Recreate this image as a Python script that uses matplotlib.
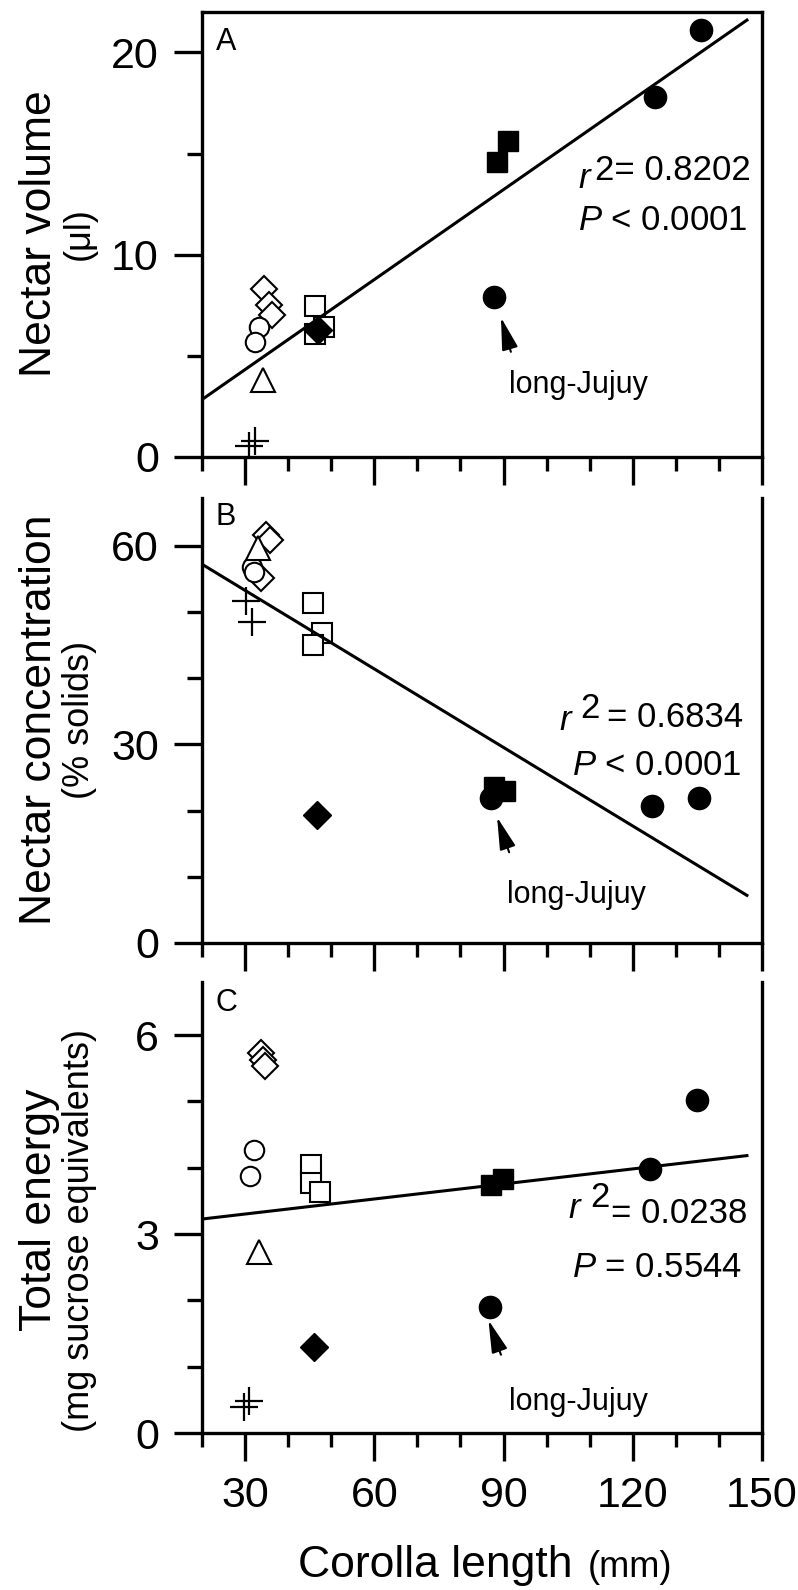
import matplotlib
matplotlib.use('Agg')
import matplotlib.pyplot as plt
from matplotlib.ticker import FixedLocator, MultipleLocator

plt.rcParams['font.family'] = ['Liberation Sans', 'DejaVu Sans']
plt.rcParams['mathtext.fontset'] = 'custom'
plt.rcParams['mathtext.rm'] = 'Liberation Sans'
plt.rcParams['mathtext.it'] = 'Liberation Sans:italic'

# symbol of each population, same order in every panel
groups = ['oD', 'oD', 'oD', 'oo', 'oo', 'o^', '+', '+', 'os', 'os', 'os',
          'D', 's', 's', 'o', 'o', 'o']

# panel A: nectar volume (ul)
corolla_A = [34.3, 35.6, 36.3, 33.3, 32.3, 34.2, 32.4, 30.9, 46.2, 46.2, 48.3,
             47.0, 91.0, 88.5, 125.2, 135.8, 87.7]
volume = [8.3, 7.5, 7.0, 6.43, 5.7, 3.8, 0.8, 0.54, 7.46, 6.1, 6.43,
          6.27, 15.6, 14.6, 17.8, 21.1, 7.9]

# panel B: nectar concentration (% solids)
corolla_B = [34.9, 35.8, 33.6, 31.5, 32.0, 33.1, 30.1, 31.7, 45.7, 47.9, 45.7,
             46.6, 87.7, 90.3, 124.5, 135.4, 87.0]
concentration = [61.6, 60.9, 55.1, 56.8, 56.0, 59.6, 51.6, 48.5, 51.3, 46.8, 45.0,
                 19.3, 23.6, 22.9, 20.7, 21.9, 21.9]

# panel C: total energy (mg sucrose equivalents)
corolla_C = [33.6, 34.2, 34.7, 32.0, 31.2, 33.2, 31.0, 29.7, 45.3, 45.3, 47.5,
             46.1, 87.2, 89.9, 124.0, 135.0, 86.8]
energy = [5.73, 5.62, 5.53, 4.27, 3.87, 2.73, 0.49, 0.39, 4.04, 3.77, 3.64,
          1.29, 3.74, 3.83, 3.98, 5.02, 1.90]

# regression lines (value at x=20 and slope)
fit_start = [2.84, 57.2, 3.226]
fit_slope = [0.1483, -0.3953, 0.00756]
fit_x = [20, 146.5]

r2_text = ['2= 0.8202', '= 0.6834', '= 0.0238']
p_text = [r'$P$ < 0.0001', r'$P$ < 0.0001', r'$P$ = 0.5544']
letters = ['A', 'B', 'C']

styles = {
    'oD': dict(marker='D', ms=13, mfc='white', mec='k', mew=1.5),
    'oo': dict(marker='o', ms=14, mfc='white', mec='k', mew=1.5),
    'o^': dict(marker='^', ms=17, mfc='white', mec='k', mew=1.5),
    '+': dict(marker='+', ms=20, mec='k', mew=1.6),
    'os': dict(marker='s', ms=14, mfc='white', mec='k', mew=1.5),
    'D': dict(marker='D', ms=14, mfc='k', mec='k', mew=1),
    's': dict(marker='s', ms=15, mfc='k', mec='k', mew=1),
    'o': dict(marker='o', ms=16, mfc='k', mec='k', mew=1),
}

fig = plt.figure(figsize=(7.98, 15.9), dpi=100)
left, width = 202 / 798, 560 / 798
axA = fig.add_axes([left, 0.71258, width, 0.27987])
axB = fig.add_axes([left, 0.40692, width, 0.27987])
axC = fig.add_axes([left, 0.09874, width, 0.28365])
axes = [axA, axB, axC]

xs = [corolla_A, corolla_B, corolla_C]
ys = [volume, concentration, energy]
ylims = [22.0, 67.2, 6.8]
ymajor = [[0, 10, 20], [0, 30, 60], [0, 3, 6]]
yminor = [5, 10, 1]
letter_y = [0.966, 0.991, 0.987]

# stats text positions (data units): r, superscript, value, P
r_pos = [(107.3, 13.28), (102.9, 32.2), (105.0, 3.24)]
sup_pos = [None, (107.7, 34.0), (110.1, 3.41)]
val_pos = [(111.2, 13.68), (114.0, 32.6), (114.9, 3.17)]
p_pos = [(107.3, 11.21), (105.9, 25.4), (105.9, 2.35)]
lj_pos = [(91.3, 3.16), (90.8, 6.0), (91.3, 0.35)]
arrow_tip = [(89.4, 6.9), (88.5, 19.0), (86.5, 1.70)]
arrow_base = [(91.7, 5.2), (91.3, 13.7), (89.4, 1.18)]

for i, ax in enumerate(axes):
    for x, y, g in zip(xs[i], ys[i], groups):
        ax.plot(x, y, ls='none', zorder=3, **styles[g])

    fy = [fit_start[i] + fit_slope[i] * (v - 20) for v in fit_x]
    ax.plot(fit_x, fy, color='k', lw=2.2, zorder=4)

    ax.set_xlim(20, 150)
    ax.set_ylim(0, ylims[i])
    ax.xaxis.set_major_locator(FixedLocator([30, 60, 90, 120, 150]))
    ax.xaxis.set_minor_locator(MultipleLocator(10))
    ax.yaxis.set_major_locator(FixedLocator(ymajor[i]))
    ax.yaxis.set_minor_locator(MultipleLocator(yminor[i]))
    ax.tick_params(which='major', direction='out', length=20, width=2.4,
                   labelsize=31, pad=11)
    ax.tick_params(which='minor', direction='out', length=10.5, width=2.4)
    ax.tick_params(axis='x', which='minor', length=10)
    if i < 2:
        ax.tick_params(axis='x', labelbottom=False)
    for s in ax.spines.values():
        s.set_linewidth(2.4)
    if i > 0:
        ax.spines['top'].set_visible(False)

    ax.text(0.024, letter_y[i], letters[i], transform=ax.transAxes,
            fontsize=22, ha='left', va='top')

    ax.text(*r_pos[i], 'r', style='italic', fontsize=25, va='baseline')
    if sup_pos[i] is not None:
        ax.text(*sup_pos[i], '2', fontsize=25, va='baseline')
    ax.text(*val_pos[i], r2_text[i], fontsize=25, va='baseline')
    ax.text(*p_pos[i], p_text[i], fontsize=25, va='baseline')

    ax.text(*lj_pos[i], 'long-Jujuy', fontsize=22, va='baseline')
    ax.annotate('', xy=arrow_tip[i], xytext=arrow_base[i],
                arrowprops=dict(arrowstyle='-|>,head_length=1.0,head_width=0.25',
                                mutation_scale=20, color='k', lw=1.5,
                                shrinkA=0, shrinkB=0))

# y axis labels (two sizes)
ylab_main = ['Nectar volume', 'Nectar concentration', 'Total energy']
ylab_unit = ['(μl)', '(% solids)', '(mg sucrose equivalents)']
main_y = [234, 720, 1210]
unit_y = [234, 720, 1231]
for i in range(3):
    fig.text(51 / 798, 1 - main_y[i] / 1590, ylab_main[i], rotation=90,
             rotation_mode='anchor', ha='center', va='baseline', fontsize=32)
    fig.text(89 / 798, 1 - unit_y[i] / 1590, ylab_unit[i], rotation=90,
             rotation_mode='anchor', ha='center', va='baseline', fontsize=26)

fig.text(572 / 798, 1 - 1577 / 1590, 'Corolla length', ha='right',
         va='baseline', fontsize=32)
fig.text(588 / 798, 1 - 1577 / 1590, '(mm)', ha='left', va='baseline',
         fontsize=26)

fig.savefig('out.png', dpi=100)
